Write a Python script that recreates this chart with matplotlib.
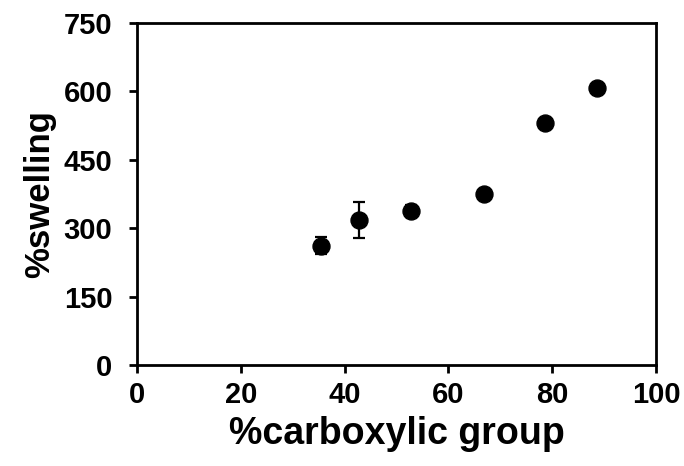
import matplotlib
matplotlib.use("Agg")
import matplotlib.pyplot as plt

# %carboxylic group vs %swelling
carboxylic = [35.5, 42.7, 52.8, 66.8, 78.6, 88.6]
swelling = [262, 318, 338, 375, 530, 608]
swelling_err = [18, 39, 14, 8, 6, 6]

plt.rcParams['font.family'] = ['Liberation Sans', 'DejaVu Sans']
plt.rcParams['font.weight'] = 'bold'

fig = plt.figure(figsize=(6.84, 4.66), dpi=100)
ax = fig.add_axes([0.2003, 0.2167, 0.7588, 0.7339])

ax.errorbar(carboxylic, swelling, yerr=swelling_err, fmt='o', color='black',
            markersize=12.2, elinewidth=1.6, capsize=4.3, capthick=1.6)

ax.set_xlim(0, 100)
ax.set_ylim(0, 750)
ax.set_xticks([0, 20, 40, 60, 80, 100])
ax.set_yticks([0, 150, 300, 450, 600, 750])

for s in ax.spines.values():
    s.set_linewidth(2.0)
ax.tick_params(direction='out', length=5.8, width=2, labelsize=21)
ax.tick_params(axis='x', pad=6)
ax.tick_params(axis='y', pad=12)
for lbl in ax.get_xticklabels() + ax.get_yticklabels():
    lbl.set_fontweight('bold')

ax.set_xlabel('%carboxylic group', fontsize=27, fontweight='bold', labelpad=5)
ax.set_ylabel('%swelling', fontsize=25, fontweight='bold', labelpad=5)

fig.savefig('out.png', dpi=100)
